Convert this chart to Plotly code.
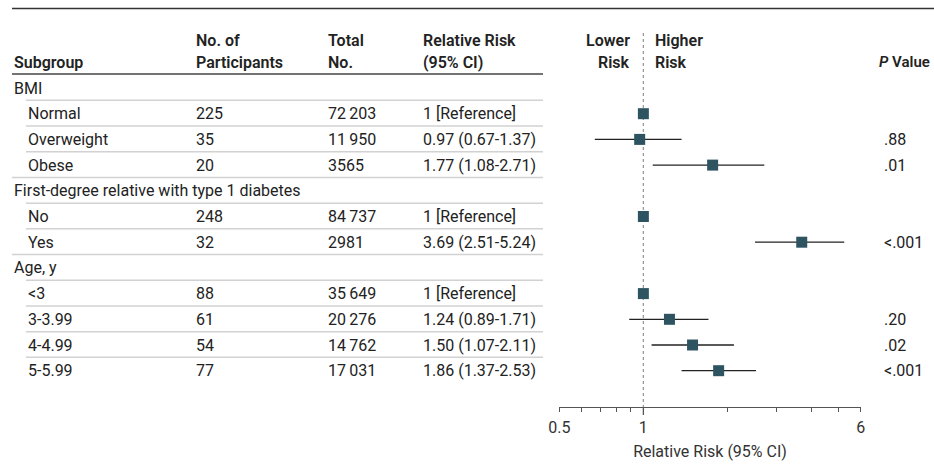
import plotly.graph_objects as go

# ---------------- data ----------------
labels = ["BMI", "Normal", "Overweight", "Obese",
          "First-degree relative with type 1 diabetes", "No", "Yes",
          "Age, y", "<3", "3-3.99", "4-4.99", "5-5.99"]
is_group = [True, False, False, False, True, False, False, True, False, False, False, False]
participants = ["", "225", "35", "20", "", "248", "32", "", "88", "61", "54", "77"]
total_no = ["", "72\u2009203", "11\u2009950", "3565", "", "84\u2009737", "2981", "",
            "35\u2009649", "20\u2009276", "14\u2009762", "17\u2009031"]
rr = [None, 1.0, 0.97, 1.77, None, 1.0, 3.69, None, 1.0, 1.24, 1.50, 1.86]
ci_lo = [None, None, 0.67, 1.08, None, None, 2.51, None, None, 0.89, 1.07, 1.37]
ci_hi = [None, None, 1.37, 2.71, None, None, 5.24, None, None, 1.71, 2.11, 2.53]
rr_text = ["", "1 [Reference]", "0.97 (0.67-1.37)", "1.77 (1.08-2.71)", "",
           "1 [Reference]", "3.69 (2.51-5.24)", "", "1 [Reference]",
           "1.24 (0.89-1.71)", "1.50 (1.07-2.11)", "1.86 (1.37-2.53)"]
p_values = ["", "", ".88", ".01", "", "", "<.001", "", "", ".20", ".02", "<.001"]
tick_vals = [0.5, 0.6, 0.7, 0.8, 0.9, 1, 2, 3, 4, 5, 6]
tick_text = ["0.5", "", "", "", "", "1", "", "", "", "", "6"]

# ---------------- layout constants ----------------
W, H = 934, 476
ROW0_PX, ROW_H, AXIS_PX = 88, 25.7, 407
FONT = "Roboto"
FS = 16
TXT = "#222222"
MARK = "#2e5462"


def row_of_px(py):
    return (py - ROW0_PX) / ROW_H


rows = list(range(len(labels)))
fig = go.Figure()

# forest points with CIs
xs, ys, ep, em = [], [], [], []
for i in rows:
    if rr[i] is None:
        continue
    xs.append(rr[i])
    ys.append(i)
    ep.append((ci_hi[i] - rr[i]) if ci_hi[i] is not None else 0)
    em.append((rr[i] - ci_lo[i]) if ci_lo[i] is not None else 0)

fig.add_trace(go.Scatter(
    x=xs, y=ys, mode="markers",
    marker=dict(symbol="square", size=11, color=MARK, line=dict(width=0)),
    error_x=dict(type="data", symmetric=False, array=ep, arrayminus=em,
                 width=0, thickness=1.3, color="#222222"),
    hoverinfo="skip", showlegend=False, cliponaxis=False,
))

ann = []


def add_text(x_px, y_row, text, anchor="left", bold=False, size=FS):
    ann.append(dict(
        x=x_px / W, xref="paper", y=y_row, yref="y",
        text=text,
        showarrow=False, xanchor=anchor, yanchor="middle",
        font=dict(family=FONT, size=size, color=TXT, weight=600 if bold else 400),
    ))


# header
h1, h2 = row_of_px(40), row_of_px(62)
add_text(12, h2, "Subgroup", bold=True)
add_text(194, h1, "No. of", bold=True)
add_text(194, h2, "Participants", bold=True)
add_text(326, h1, "Total", bold=True)
add_text(326, h2, "No.", bold=True)
add_text(421, h1, "Relative Risk", bold=True)
add_text(421, h2, "(95% CI)", bold=True)
add_text(632, h1, "Lower", anchor="right", bold=True)
add_text(632, h2, "Risk", anchor="right", bold=True)
add_text(653, h1, "Higher", bold=True)
add_text(653, h2, "Risk", bold=True)
add_text(932, h2, "<i>P</i> Value", anchor="right", bold=True, size=15)

# body
for i in rows:
    add_text(12 if is_group[i] else 26, i, labels[i])
    if participants[i]:
        add_text(194, i, participants[i])
    if total_no[i]:
        add_text(326, i, total_no[i])
    if rr_text[i]:
        add_text(421, i, rr_text[i])
    if p_values[i]:
        add_text(882, i, p_values[i])

shapes = []
# top rule
shapes.append(dict(type="line", xref="paper", yref="y", x0=12 / W, x1=1,
                   y0=row_of_px(8.5), y1=row_of_px(8.5),
                   line=dict(color="#333333", width=1.6)))
# header underline
shapes.append(dict(type="line", xref="paper", yref="y", x0=12 / W, x1=543 / W,
                   y0=row_of_px(74), y1=row_of_px(74),
                   line=dict(color="#444444", width=1.5)))
# row separators
for i in rows[:-1]:
    x0 = 12 if is_group[i + 1] else 26
    yy = i + 0.48
    shapes.append(dict(type="line", xref="paper", yref="y", x0=x0 / W, x1=543 / W,
                       y0=yy, y1=yy, line=dict(color="#d2d2d2", width=1.5)))
# reference dotted line at RR = 1
shapes.append(dict(type="line", xref="x", yref="paper", x0=1, x1=1,
                   y0=1 - 33 / H, y1=(H - AXIS_PX) / H,
                   line=dict(color="#9a9a9a", width=1.3, dash="dot"), layer="below"))
# longer tick at 1
shapes.append(dict(type="line", xref="x", yref="paper", x0=1, x1=1,
                   y0=(H - AXIS_PX) / H, y1=(H - AXIS_PX - 8) / H,
                   line=dict(color="#555555", width=1.3)))

fig.update_layout(
    template="none",
    width=W, height=H, autosize=False,
    margin=dict(l=0, r=0, t=0, b=0, pad=0, autoexpand=False),
    paper_bgcolor="white", plot_bgcolor="white",
    showlegend=False,
    annotations=ann, shapes=shapes,
    xaxis=dict(
        type="log", range=[-0.30103, 0.778151],
        domain=[559.3 / W, 860.7 / W], automargin=False,
        showgrid=False, zeroline=False,
        showline=True, linecolor="#555555", linewidth=1.3,
        ticks="outside", ticklen=4, tickwidth=1.3, tickcolor="#555555",
        tickvals=tick_vals, ticktext=tick_text, ticklabelstandoff=2,
        tickfont=dict(family=FONT, size=FS, color="#333333"),
        title=dict(text="Relative Risk (95% CI)", standoff=9,
                   font=dict(family=FONT, size=FS, color="#333333")),
        fixedrange=True,
    ),
    yaxis=dict(
        domain=[(H - AXIS_PX) / H, 1], automargin=False,
        range=[row_of_px(AXIS_PX), row_of_px(0)],
        visible=False, fixedrange=True,
    ),
)

fig.write_html(
    "out.html",
    config={"displayModeBar": False},
    post_script="document.body.style.margin='0';document.body.style.overflow='hidden';",
)
